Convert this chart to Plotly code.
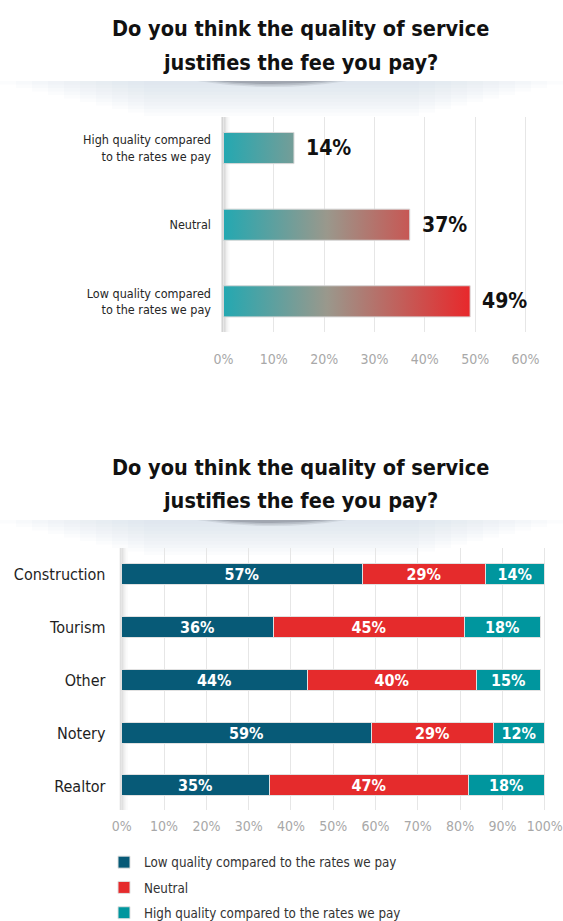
import plotly.graph_objects as go

W, H = 563, 921
FONT = "'DejaVu Sans Condensed', 'Liberation Sans Narrow', 'Roboto Condensed', sans-serif"

# ---- data ----
title_lines = ["Do you think the quality of service", "justifies the fee you pay?"]

overall_labels = ["Low quality compared<br>to the rates we pay", "Neutral",
                  "High quality compared<br>to the rates we pay"]
overall_values = [49, 37, 14]
top_ticks = [0, 10, 20, 30, 40, 50, 60]

sectors = ["Realtor", "Notery", "Other", "Tourism", "Construction"]
low_vals = [35, 59, 44, 36, 57]
neutral_vals = [47, 29, 40, 45, 29]
high_vals = [18, 12, 15, 18, 14]
series_names = ["Low quality compared to the rates we pay", "Neutral",
                "High quality compared to the rates we pay"]
series_colors = ["#075a77", "#e52b2c", "#00969e"]
bottom_ticks = [0, 10, 20, 30, 40, 50, 60, 70, 80, 90, 100]


def px_x(p):
    return p / W


def px_y(p):
    return 1 - p / H


fig = go.Figure()

# ---- top chart: gradient bars ----
half = 0.203
for i, v in enumerate(overall_values):
    fig.add_trace(go.Scatter(
        x=[0, v, v, 0, 0], y=[i - half, i - half, i + half, i + half, i - half],
        mode="lines", fill="toself",
        fillgradient=dict(type="horizontal", start=0, stop=49,
                          colorscale=[[0, "#24a8b1"], [0.42, "#9a988c"], [1, "#e8282b"]]),
        line=dict(color="rgba(215,215,215,1)", width=1),
        hoverinfo="skip", showlegend=False, xaxis="x", yaxis="y"))

annotations = []
for i, v in enumerate(overall_values):
    annotations.append(dict(x=v, y=i, xref="x", yref="y", text=f"{v}%", showarrow=False,
                            xanchor="left", yanchor="middle", xshift=10,
                            font=dict(family=FONT, size=21, color="#111", weight="bold")))

# ---- bottom chart: stacked bars ----
for name, vals, col in zip(series_names, [low_vals, neutral_vals, high_vals], series_colors):
    fig.add_trace(go.Bar(
        y=list(range(len(sectors))), x=vals, orientation="h", name=name,
        width=0.397, marker=dict(color=col, line=dict(color="rgba(225,225,225,1)", width=1)),
        text=[f"{v}%" for v in vals], textposition="inside", insidetextanchor="middle",
        constraintext="none",
        textfont=dict(family=FONT, size=16, color="white", weight="bold"),
        hoverinfo="skip", xaxis="x2", yaxis="y2", legendgroup=name))

# ---- titles ----
for ys in ([28, 62], [467, 500]):
    for line, yp in zip(title_lines, ys):
        annotations.append(dict(x=px_x(300), y=px_y(yp), xref="paper", yref="paper",
                                text=line, showarrow=False, xanchor="center", yanchor="middle",
                                font=dict(family=FONT, size=21.5, color="#111", weight="bold")))

# ---- decorative haze and shadow under titles ----
shapes = []
for top in (81, 520):
    for k in range(10):
        shapes.append(dict(type="rect", xref="paper", yref="paper",
                           x0=px_x(k * 16), x1=px_x(W - k * 16),
                           y0=px_y(top), y1=px_y(top + 3.5 * (k + 1)),
                           fillcolor="rgba(200,212,232,0.08)", line=dict(width=0), layer="below"))
    for cx, rx, ry, a in [(272, 75, 6, 0.10), (272, 66, 4.5, 0.15), (272, 56, 3, 0.2)]:
        path = (f"M {px_x(cx - rx)},{px_y(top)} "
                f"Q {px_x(cx)},{px_y(top + 2 * ry)} {px_x(cx + rx)},{px_y(top)} Z")
        shapes.append(dict(type="path", xref="paper", yref="paper", path=path,
                           fillcolor=f"rgba(60,66,80,{a})", line=dict(width=0), layer="below"))

# soft shadow along the zero line of each chart
for xr, yr, scale in (("x", "y", 1.0), ("x2", "y2", 0.7)):
    for a, b, al in [(-7, 6, 0.04), (-5, 4, 0.06), (-3.5, 2.5, 0.08), (-2.5, 1, 0.10)]:
        shapes.append(dict(type="rect", xref=xr, yref=f"{yr} domain", xsizemode="pixel",
                           xanchor=0, x0=a, x1=b, y0=0, y1=1,
                           fillcolor=f"rgba(90,90,90,{al * scale})", line=dict(width=0),
                           layer="below"))

grid = "#e6e6e6"
fig.update_layout(
    width=W, height=H, margin=dict(l=0, r=0, t=0, b=0, autoexpand=False),
    paper_bgcolor="white", plot_bgcolor="rgba(0,0,0,0)",
    barmode="stack", bargap=0,
    font=dict(family=FONT),
    shapes=shapes, annotations=annotations,
    xaxis=dict(domain=[px_x(223.5 - 2), px_x(525.5 + 2)], range=[-0.4, 60.4],
               tickvals=top_ticks, ticktext=[f"{t}%" for t in top_ticks],
               showgrid=True, gridcolor=grid, gridwidth=1, zeroline=False,
               ticks="outside", ticklen=14, tickcolor="rgba(0,0,0,0)",
               tickfont=dict(family=FONT, size=14, color="#a8a8a8"),
               anchor="y", fixedrange=True, automargin=False),
    yaxis=dict(domain=[px_y(332), px_y(117)], range=[-0.4, 2.405],
               tickvals=[0, 1, 2], ticktext=overall_labels,
               showgrid=False, zeroline=False,
               ticks="outside", ticklen=7, tickcolor="rgba(0,0,0,0)",
               tickfont=dict(family=FONT, size=12.5, color="#262626"),
               anchor="x", fixedrange=True, automargin=False),
    xaxis2=dict(domain=[px_x(121.8 - 2.1), px_x(544.7 + 2.1)], range=[-0.5, 100.5],
                tickvals=bottom_ticks, ticktext=[f"{t}%" for t in bottom_ticks],
                showgrid=True, gridcolor=grid, gridwidth=1, zeroline=False,
                ticks="outside", ticklen=3, tickcolor="rgba(0,0,0,0)",
                tickfont=dict(family=FONT, size=14, color="#a8a8a8"),
                anchor="y2", fixedrange=True, automargin=False),
    yaxis2=dict(domain=[px_y(810), px_y(548)], range=[-0.454, 4.5],
                tickvals=list(range(len(sectors))), ticktext=sectors,
                showgrid=False, zeroline=False,
                ticks="outside", ticklen=10, tickcolor="rgba(0,0,0,0)",
                tickfont=dict(family=FONT, size=16, color="#1e1e1e"),
                anchor="x2", fixedrange=True, automargin=False),
    legend=dict(x=px_x(104), y=px_y(847), xanchor="left", yanchor="top",
                traceorder="grouped", tracegroupgap=5,
                font=dict(family=FONT, size=13.3, color="#333"),
                bgcolor="rgba(0,0,0,0)"),
)

fig.write_html("out.html")
